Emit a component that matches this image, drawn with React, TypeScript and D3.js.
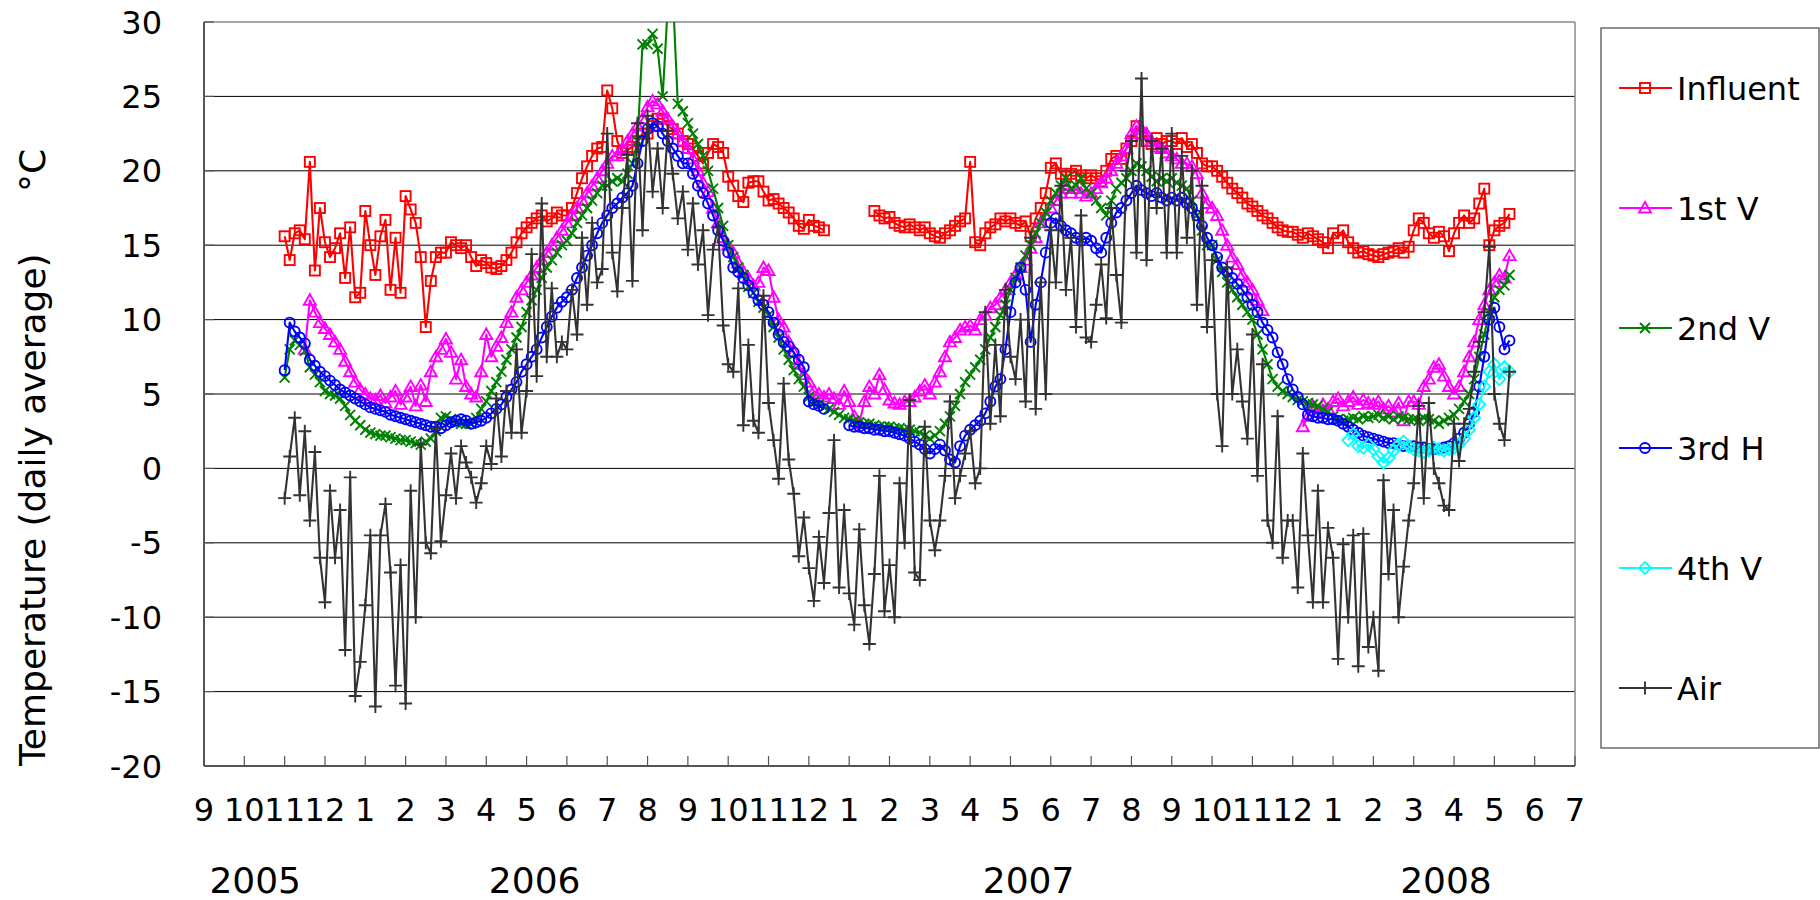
import React from "react";
import * as d3 from "d3";

// Month tick labels from Sep 2005 (index 0) to Jul 2008 (index 34)
const monthTickLabels = [
  "9", "10", "11", "12", "1", "2", "3", "4", "5", "6", "7", "8",
  "9", "10", "11", "12", "1", "2", "3", "4", "5", "6", "7", "8",
  "9", "10", "11", "12", "1", "2", "3", "4", "5", "6", "7",
];
const yearLabels = ["2005", "2006", "2007", "2008"];
const seriesNames = ["Influent", "1st V", "2nd V", "3rd H", "4th V", "Air"];

// Daily-average temperatures, read 8 samples per month.
// Main series start in Nov 2005 (month index 2); 4th V starts in Jan 2008 (month index 28).
const samplesPerMonth = 8;
const mainStartMonth = 2;
const fourthVStartMonth = 28;

const influent: (number | null)[] = [
  15.6, 14.0, 15.8, 16.0, 15.4, 20.6, 13.3, 17.5, // Nov 05
  15.2, 14.2, 14.8, 15.8, 12.8, 16.2, 11.5, 11.8, // Dec
  17.3, 15.0, 13.0, 15.6, 16.7, 12.0, 15.5, 11.8, // Jan 06
  18.3, 17.4, 16.5, 14.2, 9.5, 12.6, 14.2, 14.5, // Feb
  14.5, 15.2, 15.0, 14.8, 15.0, 14.2, 13.6, 14.0, // Mar
  13.8, 13.5, 13.4, 13.6, 14.0, 14.5, 15.2, 15.8, // Apr
  16.2, 16.5, 16.8, 17.0, 16.6, 16.8, 17.2, 17.0, // May
  17.0, 17.5, 18.5, 19.5, 20.3, 21.0, 21.5, 21.6, // Jun
  25.4, 24.2, 22.0, 21.2, 21.4, 21.6, 22.0, 22.5, // Jul
  22.5, 23.0, 23.5, 23.5, 23.0, 22.8, 22.5, 22.0, // Aug
  21.8, 21.5, 21.0, 20.5, 21.2, 21.8, 21.6, 21.2, // Sep
  19.6, 19.0, 18.3, 17.9, 19.2, 19.3, 19.3, 18.6, // Oct
  18.0, 18.1, 17.8, 17.5, 17.2, 16.8, 16.3, 16.1, // Nov
  16.7, 16.3, 16.2, 16.0, null, null, null, null, // Dec
  null, null, null, null, null, 17.3, 17.0, 16.8, // Jan 07
  16.9, 16.5, 16.3, 16.2, 16.4, 16.2, 16.0, 16.2, // Feb
  15.8, 15.6, 15.5, 15.8, 16.0, 16.3, 16.6, 16.8, // Mar
  20.6, 15.2, 15.0, 15.8, 16.2, 16.4, 16.8, 16.6, // Apr
  16.8, 16.5, 16.3, 16.6, 15.6, 16.8, 17.5, 18.5, // May
  20.2, 20.5, 19.8, 19.6, 19.8, 20.0, 19.7, 19.5, // Jun
  19.7, 19.5, 19.3, 20.0, 20.8, 21.0, 20.8, 21.5, // Jul
  22.0, 23.0, 22.5, 22.0, 21.8, 22.2, 21.8, 22.0, // Aug
  22.0, 21.8, 22.2, 21.6, 21.8, 21.2, 20.5, 20.3, // Sep
  20.3, 20.0, 19.6, 19.2, 18.8, 18.5, 18.2, 17.8, // Oct
  17.6, 17.3, 17.0, 16.8, 16.5, 16.2, 16.0, 15.9, // Nov
  15.9, 15.7, 15.5, 15.8, 15.6, 15.4, 15.2, 14.8, // Dec
  15.8, 15.5, 16.0, 15.2, 14.8, 14.5, 14.6, 14.4, // Jan 08
  14.3, 14.2, 14.4, 14.5, 14.6, 14.8, 14.5, 14.9, // Feb
  16.0, 16.8, 16.5, 15.8, 15.5, 15.9, 15.6, 14.6, // Mar
  15.8, 16.5, 17.0, 16.5, 16.8, 17.8, 18.8, 15.0, // Apr
  16.0, 16.3, 16.5, 17.1, // May
];

const firstV: (number | null)[] = [
  null, null, null, null, 8.0, 11.3, 10.5, 9.8, // Nov 05
  9.4, 9.0, 8.5, 8.0, 7.2, 6.5, 5.8, 5.3, // Dec
  5.0, 4.7, 4.6, 4.9, 4.4, 4.8, 5.2, 4.3, // Jan 06
  4.8, 5.5, 4.2, 5.6, 4.5, 6.5, 7.5, 8.0, // Feb
  8.7, 7.8, 6.0, 7.3, 5.5, 5.0, 4.8, 6.5, // Mar
  9.0, 7.5, 8.2, 8.8, 9.8, 10.5, 11.5, 12.0, // Apr
  12.5, 13.0, 13.5, 14.0, 14.5, 15.0, 15.5, 16.0, // May
  16.5, 17.0, 17.5, 18.0, 18.5, 19.0, 19.5, 20.0, // Jun
  20.5, 21.0, 21.0, 21.5, 22.0, 22.5, 23.0, 23.5, // Jul
  24.3, 24.7, 24.5, 24.0, 23.5, 23.0, 22.5, 22.0, // Aug
  21.5, 20.8, 20.0, 19.2, 18.6, 17.5, 16.5, 15.5, // Sep
  15.0, 14.5, 13.8, 13.2, 12.8, 12.3, 12.5, 13.5, // Oct
  13.3, 11.5, 10.0, 9.5, 8.5, 7.8, 7.0, 6.3, // Nov
  5.8, 5.2, 5.0, 4.8, 5.0, 4.7, 4.3, 5.2, // Dec
  4.5, 3.5, 3.0, 4.5, 5.5, 5.0, 6.3, 5.3, // Jan 07
  4.6, 4.4, 4.3, 4.5, 4.5, 4.8, 5.2, 5.6, // Feb
  5.0, 5.8, 6.5, 7.5, 8.5, 8.8, 9.3, 9.5, // Mar
  9.6, 9.3, 10.0, 10.3, 10.8, 11.0, 11.5, 12.0, // Apr
  12.5, 13.0, 13.5, 14.0, 14.8, 15.5, 16.5, 17.0, // May
  17.5, 18.0, 18.5, 18.8, 18.5, 18.8, 18.5, 18.3, // Jun
  18.5, 18.8, 19.2, 19.5, 20.0, 20.5, 21.0, 21.5, // Jul
  22.5, 23.0, 22.8, 22.5, 22.0, 21.6, 21.5, 21.2, // Aug
  21.0, 20.8, 20.5, 20.5, 20.3, 19.8, 18.5, 17.8, // Sep
  17.5, 17.0, 16.0, 15.0, 14.2, 13.7, 13.0, 12.5, // Oct
  12.0, 11.3, 10.6, null, null, null, null, null, // Nov
  null, null, 2.8, 3.5, 4.2, 3.8, 4.3, 4.0, // Dec
  4.5, 4.7, 4.2, 4.5, 4.8, 4.3, 4.6, 4.4, // Jan 08
  4.3, 4.5, 4.0, 4.2, 3.8, 4.4, 3.2, 4.5, // Feb
  4.5, 4.3, 5.5, 6.0, 6.8, 7.0, 6.2, 5.5, // Mar
  5.0, 5.5, 6.5, 7.5, 8.5, 10.0, 11.0, 12.0, // Apr
  12.5, 13.0, 12.8, 14.3, // May
];

const secondV: (number | null)[] = [
  6.1, 8.0, 8.6, 8.3, 7.9, 6.8, 6.3, 5.8, // Nov 05
  5.2, 5.0, 4.9, 4.7, 4.2, 3.6, 3.2, 2.9, // Dec
  2.6, 2.4, 2.3, 2.2, 2.2, 2.1, 2.0, 1.9, // Jan 06
  1.9, 1.8, 1.7, 1.6, 1.8, 2.0, 2.5, 3.4, // Feb
  3.5, 3.3, 3.1, 3.0, 3.0, 3.0, 3.4, 4.0, // Mar
  4.5, 5.2, 5.8, 6.5, 7.3, 8.0, 8.8, 9.5, // Apr
  10.5, 11.3, 12.0, 12.8, 13.5, 14.0, 14.5, 15.0, // May
  15.3, 15.8, 16.5, 17.0, 17.5, 18.0, 18.5, 19.0, // Jun
  19.0, 19.3, 19.5, 19.3, 19.8, 20.5, 22.0, 28.5, // Jul
  28.5, 29.2, 28.2, 25.0, 31.0, 32.0, 24.5, 24.0, // Aug
  23.2, 22.5, 21.8, 21.0, 20.0, 18.8, 17.5, 16.3, // Sep
  15.0, 14.2, 13.5, 13.0, 12.2, 11.8, 11.2, 10.8, // Oct
  10.3, 9.5, 8.8, 8.0, 7.3, 6.6, 6.0, 5.5, // Nov
  4.8, 4.5, 4.3, 4.1, 4.0, 3.8, 3.6, 3.4, // Dec
  3.3, 3.2, 3.1, 3.0, 3.0, 2.9, 2.8, 2.8, // Jan 07
  2.8, 2.7, 2.7, 2.6, 2.6, 2.5, 2.4, 2.2, // Feb
  2.0, 2.2, 2.5, 3.0, 3.5, 4.2, 5.0, 5.8, // Mar
  6.3, 6.8, 7.3, 8.0, 8.8, 9.5, 10.3, 11.0, // Apr
  12.0, 12.8, 13.5, 14.3, 15.0, 15.8, 16.5, 17.2, // May
  18.0, 18.5, 19.0, 19.5, 18.8, 19.0, 19.5, 18.8, // Jun
  18.5, 18.0, 17.5, 17.0, 18.0, 18.8, 19.2, 19.5, // Jul
  20.0, 20.5, 20.3, 20.0, 19.6, 19.3, 19.5, 19.3, // Aug
  19.5, 19.2, 19.0, 18.8, 18.0, 17.0, 16.0, 15.0, // Sep
  15.0, 14.0, 13.2, 12.5, 12.0, 11.5, 11.0, 10.5, // Oct
  10.0, 9.0, 8.0, 7.0, 6.0, 5.5, 5.2, 5.0, // Nov
  4.8, 4.6, 4.5, 4.4, 4.3, 4.2, 4.0, 3.8, // Dec
  3.5, 3.3, 3.2, 3.3, 3.4, 3.3, 3.5, 3.4, // Jan 08
  3.5, 3.6, 3.4, 3.5, 3.3, 3.5, 3.4, 3.3, // Feb
  3.3, 3.2, 3.4, 3.3, 3.2, 3.0, 3.2, 3.4, // Mar
  3.6, 4.0, 4.5, 5.0, 6.0, 7.5, 9.0, 10.5, // Apr
  11.5, 12.0, 12.3, 13.0, // May
];

const thirdH: (number | null)[] = [
  6.6, 9.8, 9.2, 8.8, 8.4, 7.3, 6.9, 6.5, // Nov 05
  6.2, 5.9, 5.6, 5.3, 5.1, 4.9, 4.7, 4.5, // Dec
  4.3, 4.1, 4.0, 3.9, 3.8, 3.6, 3.5, 3.4, // Jan 06
  3.3, 3.2, 3.1, 3.0, 2.9, 2.8, 2.8, 2.7, // Feb
  2.9, 3.1, 3.2, 3.3, 3.2, 3.0, 3.1, 3.2, // Mar
  3.4, 3.7, 4.0, 4.3, 4.8, 5.3, 5.8, 6.5, // Apr
  7.0, 7.5, 8.0, 8.8, 9.5, 10.2, 10.8, 11.2, // May
  11.5, 12.0, 12.8, 13.5, 14.3, 15.0, 15.8, 16.5, // Jun
  17.0, 17.5, 17.8, 18.2, 18.5, 19.0, 20.5, 22.0, // Jul
  22.8, 23.2, 23.0, 22.5, 22.0, 21.5, 21.0, 20.5, // Aug
  20.5, 19.8, 19.0, 18.5, 17.8, 17.0, 16.0, 15.3, // Sep
  14.5, 13.5, 13.2, 12.8, 12.3, 11.8, 11.3, 11.0, // Oct
  10.5, 9.8, 9.0, 8.5, 8.2, 7.8, 7.3, 6.8, // Nov
  4.5, 4.3, 4.2, 4.0, null, null, null, null, // Dec
  2.9, 2.8, 2.8, 2.7, 2.7, 2.6, 2.6, 2.5, // Jan 07
  2.5, 2.4, 2.3, 2.2, 2.0, 1.8, 1.6, 1.3, // Feb
  1.0, 1.3, 1.6, 1.2, 0.6, 0.4, 1.5, 2.2, // Mar
  2.6, 2.9, 3.2, 3.7, 4.5, 5.5, 6.0, 8.0, // Apr
  10.5, 12.5, 13.5, 12.0, 8.5, 11.0, 12.5, 14.5, // May
  16.5, 16.8, 16.3, 16.0, 15.8, 15.5, 15.3, 15.5, // Jun
  15.3, 14.8, 14.5, 15.5, 16.5, 17.2, 17.5, 18.0, // Jul
  18.5, 19.0, 18.7, 18.5, 18.3, 18.5, 18.2, 18.0, // Aug
  18.2, 18.0, 18.2, 17.8, 17.5, 17.0, 16.3, 15.5, // Sep
  15.0, 14.2, 13.5, 13.2, 12.8, 12.4, 12.0, 11.5, // Oct
  11.0, 10.5, 9.8, 9.3, 8.8, 7.8, 7.0, 6.0, // Nov
  5.3, 4.8, 4.3, 3.6, 3.5, 3.4, 3.4, 3.3, // Dec
  3.3, 3.2, 3.0, 2.8, 2.6, 2.4, 2.2, 2.1, // Jan 08
  2.0, 1.9, 1.8, 1.7, 1.7, 1.6, 1.5, 1.5, // Feb
  1.5, 1.4, 1.4, 1.3, 1.3, 1.3, 1.4, 1.5, // Mar
  1.7, 2.0, 2.4, 3.0, 3.8, 5.5, 7.5, 10.0, // Apr
  10.8, 9.5, 8.0, 8.6, // May
];

const fourthV: (number | null)[] = [
  null, null, null, 1.9, 2.3, 1.5, 1.4, 1.6, // Jan 08
  1.3, 0.8, 0.4, 0.7, 1.2, 1.6, 1.8, 1.5, // Feb
  1.3, 1.2, 1.1, 1.2, 1.4, 1.3, 1.2, 1.3, // Mar
  1.4, 1.6, 2.0, 2.6, 3.4, 4.3, 5.5, 6.5, // Apr
  7.0, 6.0, 6.8, 6.5, // May
];

const air: (number | null)[] = [
  -2.0, 0.8, 3.4, -1.8, 2.5, -3.5, 1.1, -6.0, // Nov 05
  -9.0, -1.5, -6.0, -2.8, -12.2, -0.6, -15.3, -13.0, // Dec
  -9.2, -4.5, -16.0, -4.5, -2.4, -7.0, -14.6, -6.5, // Jan 06
  -15.8, -1.5, -10.0, 1.6, -5.0, -5.7, 2.7, -4.9, // Feb
  -1.8, 1.0, -2.0, 1.5, 0.4, -0.6, -2.3, -1.0, // Mar
  1.5, 0.3, 4.7, 0.8, 5.2, 2.4, 8.0, 2.4, // Apr
  5.2, 14.4, 6.2, 17.8, 7.5, 12.1, 7.5, 8.5, // May
  8.0, 12.0, 9.0, 15.5, 11.0, 16.5, 12.5, 13.4, // Jun
  22.5, 14.5, 11.9, 17.5, 21.1, 12.6, 23.2, 16.0, // Jul
  23.7, 18.6, 21.5, 17.5, 22.7, 19.8, 16.8, 18.6, // Aug
  14.7, 17.8, 13.7, 16.0, 10.3, 14.7, 16.2, 9.6, // Sep
  7.0, 6.5, 12.1, 2.9, 8.3, 3.2, 2.4, 11.6, // Oct
  4.4, 1.9, -0.7, 5.7, 0.6, -1.7, -5.9, -3.3, // Nov
  -6.7, -8.9, -4.6, -7.7, -3.0, 1.9, -8.0, -2.8, // Dec
  -8.4, -10.5, -4.1, -9.2, -11.8, -7.1, -0.5, -9.6, // Jan 07
  -6.5, -10.0, -1.0, -5.0, 4.6, -7.0, -7.5, 2.8, // Feb
  -3.5, -5.5, -3.5, -0.5, 4.5, -2.0, -0.5, 1.0, // Mar
  2.5, -1.0, 0.0, 10.5, 3.0, 8.3, 3.5, 12.0, // Apr
  7.5, 6.0, 10.0, 4.5, 15.5, 4.0, 12.5, 5.0, // May
  16.0, 12.5, 19.0, 12.0, 15.5, 9.5, 17.0, 8.8, // Jun
  8.5, 11.0, 13.7, 10.1, 17.5, 13.0, 9.8, 20.0, // Jul
  22.0, 14.5, 26.2, 14.0, 22.0, 17.5, 21.5, 14.5, // Aug
  22.5, 14.5, 21.0, 15.5, 20.0, 11.0, 19.0, 9.5, // Sep
  14.0, 5.0, 1.5, 13.5, 5.0, 8.0, 4.5, 2.0, // Oct
  9.0, -0.5, 7.0, -3.5, -5.0, 3.5, -6.0, -3.5, // Nov
  -3.5, -8.0, 1.0, -4.5, -9.0, -1.5, -9.0, -4.0, // Dec
  -6.0, -12.8, -5.1, -10.0, -4.5, -13.3, -4.4, -12.0, // Jan 08
  -10.0, -13.6, -0.8, -7.1, -2.8, -10.0, -6.6, -3.5, // Feb
  -1.0, 4.2, -2.0, 4.4, 0.0, -1.0, -2.5, -2.8, // Mar
  3.0, 0.5, 3.0, 4.0, 6.5, 8.5, 10.5, 14.9, // Apr
  5.0, 3.0, 1.9, 6.5, // May
];

type MarkerKind = "square" | "triangle" | "cross" | "circle" | "diamond" | "plus";

const seriesDefs: { name: string; color: string; marker: MarkerKind; start: number; values: (number | null)[] }[] = [
  { name: seriesNames[0], color: "#FF0000", marker: "square", start: mainStartMonth, values: influent },
  { name: seriesNames[1], color: "#FF00FF", marker: "triangle", start: mainStartMonth, values: firstV },
  { name: seriesNames[2], color: "#008000", marker: "cross", start: mainStartMonth, values: secondV },
  { name: seriesNames[3], color: "#0000FF", marker: "circle", start: mainStartMonth, values: thirdH },
  { name: seriesNames[4], color: "#00FFFF", marker: "diamond", start: fourthVStartMonth, values: fourthV },
  { name: seriesNames[5], color: "#333333", marker: "plus", start: mainStartMonth, values: air },
];

const FONT = "'DejaVu Sans', Verdana, sans-serif";

function Marker({ kind, cx, cy, color }: { kind: MarkerKind; cx: number; cy: number; color: string }) {
  const sw = 1.9;
  switch (kind) {
    case "square":
      return <rect x={cx - 5} y={cy - 5} width={10} height={10} fill="none" stroke={color} strokeWidth={sw} />;
    case "triangle":
      return (
        <path d={`M${cx},${cy - 6}L${cx + 6},${cy + 4.5}L${cx - 6},${cy + 4.5}Z`} fill="none" stroke={color} strokeWidth={sw} />
      );
    case "circle":
      return <circle cx={cx} cy={cy} r={5} fill="none" stroke={color} strokeWidth={sw} />;
    case "diamond":
      return (
        <path d={`M${cx},${cy - 6}L${cx + 6},${cy}L${cx},${cy + 6}L${cx - 6},${cy}Z`} fill="none" stroke={color} strokeWidth={sw} />
      );
    case "cross":
      return (
        <path d={`M${cx - 5},${cy - 5}L${cx + 5},${cy + 5}M${cx - 5},${cy + 5}L${cx + 5},${cy - 5}`} stroke={color} strokeWidth={sw} />
      );
    case "plus":
      return <path d={`M${cx - 6.5},${cy}L${cx + 6.5},${cy}M${cx},${cy - 6.5}L${cx},${cy + 6.5}`} stroke={color} strokeWidth={sw} />;
  }
  return null;
}

export default function App() {
  const W = 1820;
  const H = 900;
  const left = 204, right = 1575, top = 22, bottom = 766;

  const x = d3.scaleLinear().domain([0, monthTickLabels.length - 1]).range([left, right]);
  const y = d3.scaleLinear().domain([-20, 30]).range([bottom, top]);
  const yTicks = d3.range(-20, 31, 5);
  const gridTicks = yTicks.filter((v) => v > -20 && v < 30);

  const seriesPoints = seriesDefs.map((s) =>
    s.values.map((v, i) => ({ k: s.start + i / samplesPerMonth, v }))
  );

  const line = d3
    .line<{ k: number; v: number | null }>()
    .defined((d) => d.v != null)
    .x((d) => x(d.k))
    .y((d) => y(d.v as number));

  // year label positions (in month-index units on the x scale)
  const yearPos = [1.27, 8.2, 20.45, 30.8];

  const legendX = 1601, legendY = 28, legendW = 218, legendH = 720;
  const legendItemY = (i: number) => 88 + i * 120;

  return (
    <div style={{ position: "absolute", left: 0, top: 0, width: W, height: H, background: "#fff" }}>
      <svg width={W} height={H} style={{ display: "block", fontFamily: FONT }}>
        <defs>
          <clipPath id="plotClip">
            <rect x={left} y={top} width={right - left} height={bottom - top} />
          </clipPath>
        </defs>
        <rect x={0} y={0} width={W} height={H} fill="#fff" />

        {/* gridlines */}
        {gridTicks.map((v) => (
          <line key={"g" + v} x1={left} x2={right} y1={y(v)} y2={y(v)} stroke="#000" strokeWidth={1} />
        ))}

        {/* plot frame */}
        <line x1={left} x2={right} y1={top} y2={top} stroke="#888" strokeWidth={1.5} />
        <line x1={right} x2={right} y1={top} y2={bottom} stroke="#888" strokeWidth={1.5} />

        {/* series */}
        <g clipPath="url(#plotClip)">
          {seriesDefs.map((s, si) => (
            <g key={s.name}>
              <path d={line(seriesPoints[si]) || ""} fill="none" stroke={s.color} strokeWidth={2.1} strokeLinejoin="round" />
              {seriesPoints[si]
                .filter((p) => p.v != null)
                .map((p, i) => (
                  <Marker key={i} kind={s.marker} cx={x(p.k)} cy={y(p.v as number)} color={s.color} />
                ))}
            </g>
          ))}
        </g>

        {/* axes */}
        <line x1={left} x2={left} y1={top} y2={bottom} stroke="#555" strokeWidth={2} />
        <line x1={left} x2={right} y1={bottom} y2={bottom} stroke="#555" strokeWidth={2} />
        {yTicks.map((v) => (
          <g key={"yt" + v}>
            <line x1={left} x2={left + 10} y1={y(v)} y2={y(v)} stroke="#555" strokeWidth={1.2} />
            <text x={162} y={y(v)} dy="0.36em" textAnchor="end" fontSize={32} fill="#000">
              {v}
            </text>
          </g>
        ))}
        {monthTickLabels.map((lab, k) => (
          <g key={"xt" + k}>
            <line x1={x(k)} x2={x(k)} y1={bottom} y2={bottom - 10} stroke="#555" strokeWidth={1.2} />
            <text x={x(k)} y={821} textAnchor="middle" fontSize={32} fill="#000">
              {lab}
            </text>
          </g>
        ))}
        {yearLabels.map((lab, i) => (
          <text key={lab} x={x(yearPos[i])} y={893} textAnchor="middle" fontSize={36} fill="#000">
            {lab}
          </text>
        ))}

        {/* y axis title */}
        <text transform="translate(45,766) rotate(-90)" fontSize={36} fill="#000">
          Temperature (daily average)
        </text>
        <text transform="translate(45,192) rotate(-90)" fontSize={36} fill="#000">
          °C
        </text>

        {/* legend */}
        <rect x={legendX} y={legendY} width={legendW} height={legendH} fill="#fff" stroke="#555" strokeWidth={1.3} />
        {seriesDefs.map((s, i) => (
          <g key={"lg" + s.name}>
            <line x1={1619} x2={1672} y1={legendItemY(i)} y2={legendItemY(i)} stroke={s.color} strokeWidth={2} />
            <Marker kind={s.marker} cx={1645} cy={legendItemY(i)} color={s.color} />
            <text x={1677} y={legendItemY(i) + 11.5} fontSize={32} fill="#000">
              {s.name}
            </text>
          </g>
        ))}
      </svg>
    </div>
  );
}
